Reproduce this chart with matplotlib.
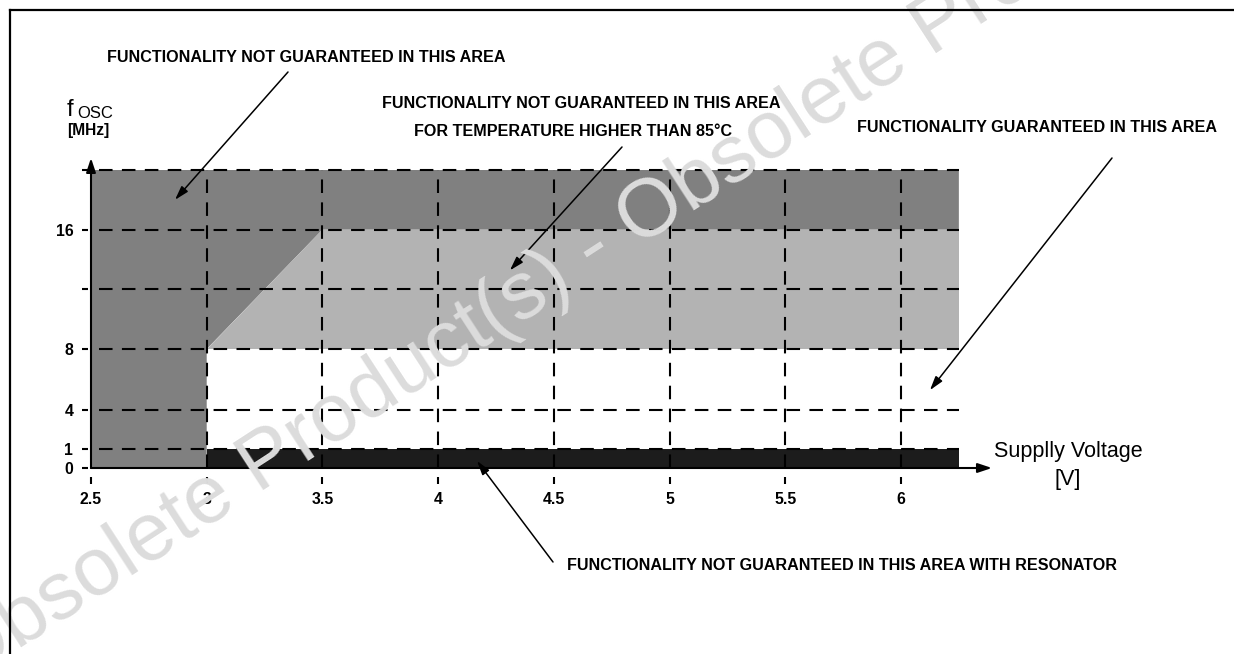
import matplotlib
matplotlib.use("Agg")
import matplotlib.pyplot as plt
import numpy as np
from matplotlib.lines import Line2D

plt.rcParams["font.family"] = ["Liberation Sans", "DejaVu Sans"]

W, H = 1234, 654

# operating area boundaries (supply voltage in V, f_osc in MHz)
V_MIN, V_MAX = 2.5, 6.25
V_RES = 3.0          # lowest voltage for resonator operation
V_KNEE = 3.5         # voltage where the 16 MHz limit starts
F_RES_MIN = 1        # below this the resonator is not guaranteed
F_85C = 8            # limit above 85 degC at low voltage
F_MAX = 16
F_TOP = 20

x_ticks = [2.5, 3, 3.5, 4, 4.5, 5, 5.5, 6]
x_labels = ["2.5", "3", "3.5", "4", "4.5", "5", "5.5", "6"]
y_ticks = [0, 1, 4, 8, 12, 16, 20]
y_labels = ["0", "1", "4", "8", "", "16", ""]
x_grid = [3, 3.5, 4, 4.5, 5, 5.5, 6]
y_grid = [1, 4, 8, 12, 16, 20]

# schematic frequency axis: spacing is not proportional below 8 MHz
F_KNOT = [-4, 0, 1, 4, 8, 20, 28]
F_POS = [-40, 0, 19, 58, 119, 298, 418]


def fwd(v):
    return np.interp(v, F_KNOT, F_POS)


def inv(p):
    return np.interp(p, F_POS, F_KNOT)


def fpx(x, y):
    """figure pixel (from top-left) -> figure fraction"""
    return (x / W, 1 - y / H)


fig = plt.figure(figsize=(W / 100, H / 100), dpi=100)
ax_left, ax_w = 91, 4.0 * 231.43
ax_bottom, ax_h = 468, 328
ax = fig.add_axes([ax_left / W, (H - ax_bottom) / H, ax_w / W, ax_h / H])
ax.set_yscale("function", functions=(fwd, inv))
ax.set_xlim(2.5, 6.5)
ax.set_ylim(0, 22)
ax.patch.set_alpha(0)

DARK, LIGHT, BAND = "#808080", "#b3b3b3", "#1c1c1c"
dark = [(V_MIN, 0), (V_RES, 0), (V_RES, F_85C), (V_KNEE, F_MAX),
        (V_MAX, F_MAX), (V_MAX, F_TOP), (V_MIN, F_TOP)]
light = [(V_RES, F_85C), (V_MAX, F_85C), (V_MAX, F_MAX), (V_KNEE, F_MAX)]
ax.fill(*zip(*dark), color=DARK, lw=0, zorder=1)
ax.fill(*zip(*light), color=LIGHT, lw=0, zorder=1)
ax.fill_between([V_RES, V_MAX], 0, F_RES_MIN, color=BAND, lw=0, zorder=1)

for y in y_grid:
    ax.plot([2.535, V_MAX], [y, y], color="black", lw=1.5,
            dashes=(6.5, 4.5), zorder=2)
for x in x_grid:
    ax.plot([x, x], [0, F_TOP], color="black", lw=1.5, dashes=(6.5, 4.5),
            zorder=2)

# axes with arrow heads
arrow = dict(arrowstyle="-|>,head_length=0.6,head_width=0.2", lw=1.5,
             color="black", shrinkA=0, shrinkB=0, mutation_scale=14)
ax.annotate("", xy=(6.393, 0), xytext=(V_MIN, 0), arrowprops=arrow, zorder=4)
ax.annotate("", xy=(V_MIN, 20.8), xytext=(V_MIN, 0), arrowprops=arrow,
            zorder=4)

for side in ("top", "right"):
    ax.spines[side].set_visible(False)
ax.spines["bottom"].set_position(("outward", 6.5))
ax.spines["left"].set_position(("outward", 2.2))
ax.spines["bottom"].set_color("none")
ax.spines["left"].set_color("none")
ax.set_xticks(x_ticks, x_labels)
ax.set_yticks(y_ticks, y_labels)
ax.minorticks_off()
ax.tick_params(axis="x", length=5, width=1.5, pad=6, labelsize=11.4)
ax.tick_params(axis="y", length=4.5, width=1.5, pad=6, labelsize=11.4)
for lab in ax.get_xticklabels() + ax.get_yticklabels():
    lab.set_fontweight("bold")

# axis titles
fig.text(*fpx(67, 110), "f", fontsize=17, va="center", ha="left")
fig.text(*fpx(77, 114), "OSC", fontsize=12, va="center", ha="left")
fig.text(*fpx(88, 131), "[MHz]", fontsize=11.2, fontweight="bold",
         va="center", ha="center")
fig.text(*fpx(1068, 451), "Supplly Voltage", fontsize=15.5, va="center",
         ha="center")
fig.text(*fpx(1068, 479), "[V]", fontsize=15.5, va="center", ha="center")

# area notes
note = dict(fontsize=11.6, fontweight="bold", va="center")
fig.text(*fpx(107, 57), "FUNCTIONALITY NOT GUARANTEED IN THIS AREA",
         ha="left", **note)
fig.text(*fpx(581, 103), "FUNCTIONALITY NOT GUARANTEED IN THIS AREA",
         ha="center", **note)
fig.text(*fpx(573, 131), "FOR TEMPERATURE HIGHER THAN 85°C",
         ha="center", **note)
fig.text(*fpx(1217, 127), "FUNCTIONALITY GUARANTEED IN THIS AREA",
         ha="right", **note)
fig.text(*fpx(567, 565),
         "FUNCTIONALITY NOT GUARANTEED IN THIS AREA WITH RESONATOR",
         ha="left", **note)

pointer = dict(arrowstyle="-|>,head_length=0.6,head_width=0.18", lw=1.1,
               color="black", shrinkA=0, shrinkB=0, mutation_scale=14)
for head, tail in [((2.863, 18.0), (288, 72)),
                   ((4.31, 13.27), (622, 147)),
                   ((6.125, 5.3), (1112, 158)),
                   ((4.168, 0.37), (553, 562))]:
    ax.annotate("", xy=head, xytext=fpx(*tail), textcoords="figure fraction",
                arrowprops=pointer, zorder=5, annotation_clip=False)

# watermark
fig.text(*fpx(595, 250), "Obsolete Product(s) - Obsolete Product(s)",
         fontsize=59, color="#dcdcdc", rotation=33, ha="center", va="center",
         rotation_mode="anchor", zorder=10)

# page frame
fig.add_artist(Line2D([10 / W, 1.0], [1 - 10 / H, 1 - 10 / H], color="black",
                      lw=1.6, zorder=11))
fig.add_artist(Line2D([9.5 / W, 9.5 / W], [0.0, 1 - 10 / H], color="black",
                      lw=1.6, zorder=11))

fig.savefig("out.png", dpi=100)
